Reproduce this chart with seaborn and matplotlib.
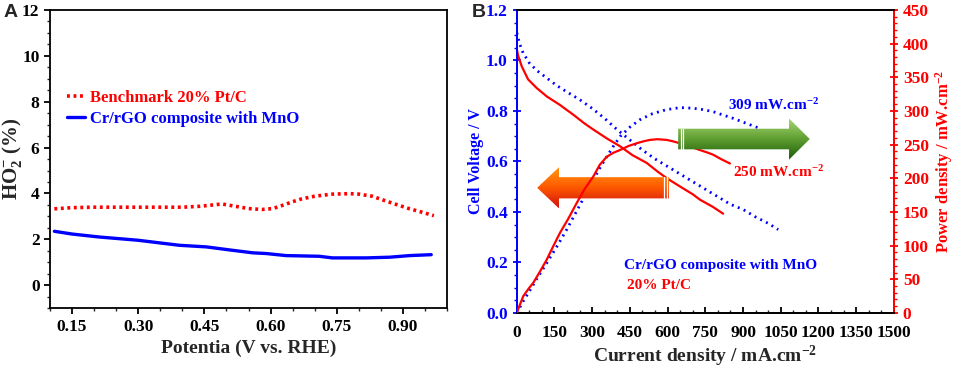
import numpy as np
import pandas as pd
import matplotlib
matplotlib.use("Agg")
import matplotlib.pyplot as plt
import seaborn as sns
from matplotlib.ticker import MultipleLocator, FormatStrFormatter
from matplotlib.patches import Polygon
from matplotlib.colors import LinearSegmentedColormap

# ---------------- data: panel A ----------------
pot_pt = [0.11, 0.15, 0.20, 0.25, 0.30, 0.35, 0.40, 0.44, 0.47, 0.49, 0.52, 0.55, 0.58,
          0.605, 0.63, 0.65, 0.67, 0.70, 0.74, 0.78, 0.80, 0.83, 0.86, 0.88, 0.915, 0.94, 0.97]
ho2_pt = [3.33, 3.38, 3.40, 3.40, 3.40, 3.40, 3.40, 3.44, 3.50, 3.54, 3.44, 3.34, 3.30,
          3.34, 3.50, 3.64, 3.76, 3.88, 3.97, 3.99, 3.97, 3.88, 3.68, 3.55, 3.33, 3.20, 3.03]
pot_cr = [0.11, 0.15, 0.212, 0.299, 0.393, 0.454, 0.514, 0.56, 0.59, 0.635, 0.71, 0.74,
          0.817, 0.87, 0.915, 0.964]
ho2_cr = [2.35, 2.23, 2.10, 1.96, 1.74, 1.67, 1.52, 1.41, 1.38, 1.29, 1.26, 1.19,
          1.19, 1.22, 1.29, 1.33]
label_pt_a = "Benchmark 20% Pt/C"
label_cr_a = "Cr/rGO composite with MnO"

# ---------------- data: panel B ----------------
j_cr_v = [0, 10, 25, 50, 80, 120, 160, 200, 250, 300, 350, 400, 450, 500, 550, 600, 650,
          700, 750, 800, 850, 900, 950, 1000, 1040]
v_cr = [1.11, 1.07, 1.03, 0.99, 0.96, 0.93, 0.90, 0.875, 0.845, 0.81, 0.77, 0.725, 0.685,
        0.645, 0.61, 0.58, 0.55, 0.52, 0.49, 0.46, 0.43, 0.41, 0.38, 0.355, 0.33]
j_pt_v = [0, 5, 20, 45, 80, 120, 170, 225, 270, 305, 360, 411, 460, 517, 560, 596, 649,
          700, 728, 780, 821]
v_pt = [1.045, 1.02, 0.976, 0.925, 0.89, 0.857, 0.825, 0.785, 0.75, 0.726, 0.69, 0.66,
        0.625, 0.594, 0.56, 0.534, 0.501, 0.47, 0.449, 0.42, 0.393]
j_cr_p = [0, 25, 53, 85, 119, 160, 199, 245, 291, 325, 358, 385, 411, 450, 490, 540, 596,
          650, 702, 740, 781, 820, 861, 910, 967]
p_cr = [0, 17, 34, 54, 74, 99, 124, 156, 188, 212, 232, 248, 262, 276, 287, 296, 302,
        305, 304, 302, 299, 294, 289, 282, 274]
j_pt_p = [0, 10, 26, 45, 66, 90, 119, 145, 172, 205, 238, 270, 305, 330, 358, 385, 411,
          445, 477, 505, 530, 560, 596, 620, 649, 690, 728, 760, 781, 815, 848]
p_pt = [0, 10, 25, 35, 45, 60, 79, 99, 119, 140, 163, 184, 203, 220, 232, 238, 242,
        248, 252, 255, 257, 258, 257, 255, 252, 247, 242, 238, 235, 228, 222]
peak_cr_text = "309 mW.cm$^{-2}$"
peak_pt_text = "250 mW.cm$^{-2}$"
name_cr_b = "Cr/rGO composite with MnO"
name_pt_b = "20% Pt/C"

BLUE = "#0000ff"
RED = "#ff0000"

sns.set_style("ticks")
plt.rcParams['font.family'] = ['Liberation Serif', 'DejaVu Serif']
plt.rcParams['font.weight'] = 'bold'
plt.rcParams['axes.labelweight'] = 'bold'
plt.rcParams['mathtext.fontset'] = 'custom'
plt.rcParams['mathtext.rm'] = 'Liberation Serif:bold'
plt.rcParams['mathtext.it'] = 'Liberation Serif:bold'
plt.rcParams['mathtext.bf'] = 'Liberation Serif:bold'
plt.rcParams['mathtext.default'] = 'bf'

TICK_FS = 12.5

fig = plt.figure(figsize=(9.57, 3.69), dpi=100)

# ================= Panel A =================
axA = fig.add_axes([0.0522, 0.165, 0.415, 0.808])
sns.lineplot(x=pot_pt, y=ho2_pt, ax=axA, color=RED, lw=2.6, linestyle=(0, (0.8, 1.0)),
             label=label_pt_a)
sns.lineplot(x=pot_cr, y=ho2_cr, ax=axA, color=BLUE, lw=2.4, label=label_cr_a)
axA.set_xlim(0.1, 1.0)
axA.set_ylim(-1, 12)
axA.xaxis.set_major_locator(MultipleLocator(0.15))
axA.xaxis.set_minor_locator(MultipleLocator(0.05))
axA.xaxis.set_major_formatter(FormatStrFormatter('%.2f'))
axA.yaxis.set_major_locator(MultipleLocator(2))
axA.yaxis.set_minor_locator(MultipleLocator(0.5))
axA.tick_params(axis='both', which='major', direction='out', length=4, width=1.3,
                labelsize=TICK_FS, colors='black')
axA.tick_params(axis='both', which='minor', direction='out', length=2.5, width=1)
for s in axA.spines.values():
    s.set_linewidth(1.3)
    s.set_color('black')
axA.set_xlabel("Potentia (V vs. RHE)", fontsize=14, fontweight='bold', labelpad=4)
axA.set_ylabel(r"HO$^{-}_{2}$ (%)", fontsize=15, fontweight='bold')
axA.yaxis.set_label_coords(-0.066, 0.5)
leg = axA.legend(loc='upper left', bbox_to_anchor=(0.022, 0.76), frameon=False,
                 prop={'family': 'Liberation Serif', 'weight': 'bold', 'size': 12},
                 handlelength=1.1, handletextpad=0.3, labelspacing=0.3, borderpad=0,
                 labelcolor='linecolor')
fig.text(0.004, 0.965, "A", fontsize=14, fontweight='bold', family='Liberation Sans',
         va='center', ha='left')

# ================= Panel B =================
axB = fig.add_axes([0.540, 0.152, 0.394, 0.821])
axB2 = axB.twinx()
sns.lineplot(x=j_cr_v, y=v_cr, ax=axB, color=BLUE, lw=2.0, linestyle=(0, (0.7, 1.6)),
             zorder=1)
sns.lineplot(x=j_pt_v, y=v_pt, ax=axB, color=RED, lw=1.6, zorder=2)
sns.lineplot(x=j_cr_p, y=p_cr, ax=axB2, color=BLUE, lw=2.0, linestyle=(0, (0.7, 1.6)),
             zorder=1)
sns.lineplot(x=j_pt_p, y=p_pt, ax=axB2, color=RED, lw=1.6, zorder=3)


def grad_arrow(ax, x_tail, x_tip, yc, bh, hh, hl, colors, z):
    d = np.sign(x_tip - x_tail)
    xh = x_tip - d * hl
    verts = [(x_tail, yc - bh), (xh, yc - bh), (xh, yc - hh), (x_tip, yc),
             (xh, yc + hh), (xh, yc + bh), (x_tail, yc + bh)]
    poly = Polygon(verts, closed=True, facecolor='none', edgecolor='none',
                   transform=ax.transAxes, zorder=z)
    ax.add_patch(poly)
    grad = np.linspace(0, 1, 256).reshape(-1, 1)
    cmap = LinearSegmentedColormap.from_list('g', colors)
    im = ax.imshow(grad, cmap=cmap, origin='lower', aspect='auto',
                   extent=[min(x_tail, x_tip), max(x_tail, x_tip), yc - hh, yc + hh],
                   transform=ax.transAxes, zorder=z, interpolation='bilinear')
    im.set_clip_path(poly)
    for k in (0.0065, 0.013):
        ax.plot([x_tail + d * k, x_tail + d * k], [yc - bh, yc + bh], color='white',
                lw=0.9, transform=ax.transAxes, zorder=z + 0.1)


grad_arrow(axB2, 0.404, 0.054, 0.413, 0.035, 0.068, 0.058,
           ["#d01010", "#ff5a00", "#ff9a10"], 2)
grad_arrow(axB2, 0.428, 0.777, 0.574, 0.034, 0.068, 0.055,
           ["#1a5a08", "#5f9e30", "#a8d878"], 4)

axB.set_xlim(0, 1500)
axB.set_ylim(0, 1.2)
axB2.set_xlim(0, 1500)
axB2.set_ylim(0, 450)
axB.xaxis.set_major_locator(MultipleLocator(150))
axB.xaxis.set_minor_locator(MultipleLocator(50))
axB.yaxis.set_major_locator(MultipleLocator(0.2))
axB.yaxis.set_minor_locator(MultipleLocator(0.05))
axB.yaxis.set_major_formatter(FormatStrFormatter('%.1f'))
axB2.yaxis.set_major_locator(MultipleLocator(50))
axB2.yaxis.set_minor_locator(MultipleLocator(10))
axB.tick_params(axis='x', which='major', direction='in', length=4, width=1.3,
                labelsize=TICK_FS, colors='black', pad=9)
axB.tick_params(axis='x', which='minor', direction='in', length=2.5, width=1)
axB.tick_params(axis='y', which='major', direction='inout', length=6, width=1.3,
                labelsize=TICK_FS, colors=BLUE)
axB.tick_params(axis='y', which='minor', direction='out', length=2.5, width=1, colors=BLUE)
axB2.tick_params(axis='y', which='major', direction='inout', length=6, width=1.3,
                 labelsize=TICK_FS, colors=RED)
axB2.tick_params(axis='y', which='minor', direction='out', length=2.5, width=1, colors=RED)
for ax in (axB, axB2):
    for s in ax.spines.values():
        s.set_linewidth(1.3)
        s.set_color('black')
axB2.spines['left'].set_color(BLUE)
axB2.spines['right'].set_color(RED)
axB.spines['left'].set_color(BLUE)
axB.spines['right'].set_color(RED)
axB.set_xlabel("Current density / mA.cm$^{-2}$", fontsize=14, fontweight='bold',
               labelpad=2)
axB.set_ylabel("Cell Voltage / V", fontsize=11.5, fontweight='bold', color=BLUE)
axB.yaxis.set_label_coords(-0.087, 0.5)
axB2.set_ylabel("Power density / mW.cm$^{-2}$", fontsize=12, fontweight='bold',
                color=RED)
axB2.yaxis.set_label_coords(1.103, 0.5)

axB2.text(0.56, 0.686, peak_cr_text, transform=axB2.transAxes, color=BLUE, fontsize=11,
          fontweight='bold', ha='left', va='center', zorder=6)
axB2.text(0.573, 0.465, peak_pt_text, transform=axB2.transAxes, color=RED, fontsize=11,
          fontweight='bold', ha='left', va='center', zorder=6)
axB2.text(0.284, 0.158, name_cr_b, transform=axB2.transAxes, color=BLUE, fontsize=11,
          fontweight='bold', ha='left', va='center', zorder=6)
axB2.text(0.292, 0.092, name_pt_b, transform=axB2.transAxes, color=RED, fontsize=11,
          fontweight='bold', ha='left', va='center', zorder=6)
fig.text(0.493, 0.965, "B", fontsize=14, fontweight='bold', family='Liberation Sans',
         va='center', ha='left')

fig.canvas.draw()
for ax in (axA, axB, axB2):
    for lab in ax.get_xticklabels() + ax.get_yticklabels():
        lab.set_fontweight('bold')
        lab.set_fontfamily('Liberation Serif')

fig.savefig("out.png", dpi=100)
